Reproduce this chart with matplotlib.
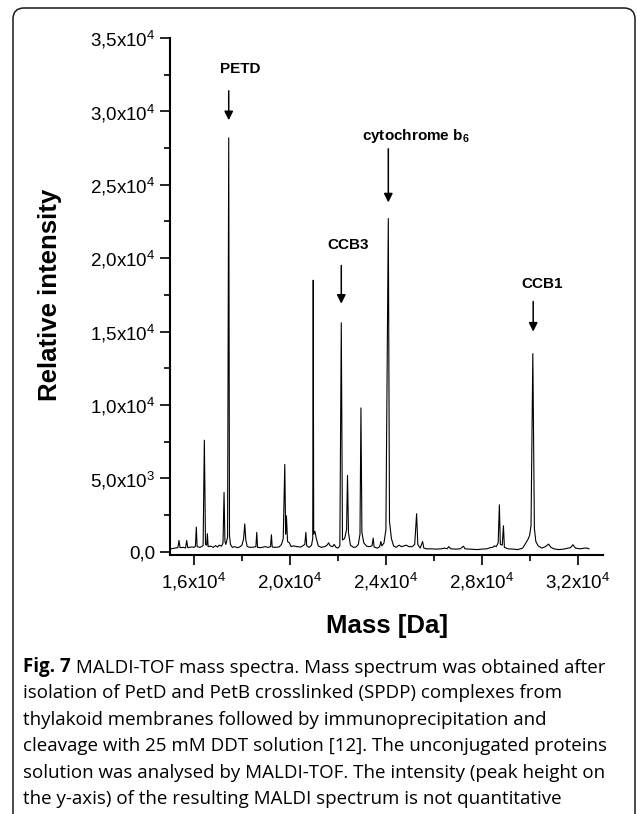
import matplotlib
matplotlib.use("Agg")
import matplotlib.pyplot as plt
from matplotlib.patches import FancyBboxPatch
from matplotlib.transforms import IdentityTransform

plt.rcParams['font.family'] = ['Liberation Sans', 'DejaVu Sans']
plt.rcParams['mathtext.fontset'] = 'custom'
plt.rcParams['mathtext.rm'] = 'Liberation Sans'
plt.rcParams['mathtext.it'] = 'Liberation Sans:italic'
plt.rcParams['mathtext.bf'] = 'Liberation Sans:bold'
plt.rcParams['mathtext.default'] = 'regular'

# spectrum: mass [Da] and relative intensity
mass = [15030, 15200, 15330, 15374, 15420, 15550, 15650, 15695, 15740, 15900,
        16000, 16060, 16097, 16130, 16250, 16380, 16432, 16480, 16530, 16557,
        16590, 16700, 16800, 16900, 16980, 17050, 17150, 17210, 17253, 17290,
        17330, 17400, 17448, 17480, 17520, 17600, 17700, 17800, 17900, 18000,
        18070, 18116, 18160, 18220, 18350, 18500, 18580, 18617, 18650, 18800,
        18950, 19100, 19190, 19228, 19260, 19400, 19550, 19650, 19720, 19785,
        19820, 19855, 19900, 19980, 20050, 20150, 20300, 20450, 20550, 20620,
        20663, 20700, 20800, 20900, 20950, 20970, 20990, 21040, 21100, 21180,
        21300, 21450, 21550, 21610, 21680, 21780, 21845, 21920, 22000, 22080,
        22140, 22190, 22280, 22360, 22400, 22440, 22520, 22650, 22750, 22850,
        22920, 22960, 23000, 23080, 23200, 23320, 23420, 23470, 23510, 23650,
        23740, 23790, 23830, 23920, 24000, 24100, 24150, 24230, 24320, 24420,
        24550, 24650, 24750, 24850, 24950, 25100, 25200, 25280, 25330, 25430,
        25530, 25580, 25700, 25900, 26100, 26300, 26450, 26550, 26620, 26700,
        26900, 27100, 27230, 27300, 27500, 27800, 28000, 28200, 28350, 28450,
        28525, 28600, 28680, 28730, 28770, 28850, 28900, 28940, 29100, 29300,
        29500, 29700, 29850, 29915, 29990, 30050, 30125, 30190, 30250, 30350,
        30500, 30650, 30780, 30880, 31000, 31200, 31400, 31600, 31700, 31795,
        31900, 32100, 32300, 32400, 32465]
intensity = [200, 250, 280, 770, 280, 300, 260, 770, 280, 330,
             300, 380, 1680, 350, 300, 420, 7600, 500, 450, 1230,
             350, 380, 300, 420, 320, 450, 380, 600, 4040, 700,
             500, 1000, 28200, 1100, 500, 300, 350, 280, 320, 450,
             900, 1900, 800, 350, 300, 320, 350, 1320, 300, 280,
             350, 300, 350, 1160, 320, 300, 330, 500, 900, 5950,
             1200, 2450, 700, 600, 350, 400, 350, 320, 420, 500,
             1320, 400, 300, 450, 900, 18500, 1200, 1400, 900, 400,
             300, 350, 450, 610, 400, 350, 500, 300, 250, 400,
             15600, 800, 900, 1500, 5200, 1300, 450, 300, 320, 500,
             1200, 9800, 1300, 600, 380, 350, 400, 930, 320, 250,
             350, 700, 400, 600, 1500, 22700, 2060, 900, 400, 300,
             450, 350, 400, 450, 350, 350, 500, 2590, 500, 250,
             700, 250, 200, 200, 180, 200, 250, 200, 350, 200,
             180, 200, 380, 200, 180, 150, 180, 200, 280, 300,
             400, 350, 600, 3200, 500, 450, 1770, 300, 200, 180,
             150, 250, 650, 820, 1100, 1800, 13500, 1600, 700, 400,
             250, 350, 520, 300, 200, 150, 180, 250, 280, 480,
             250, 200, 250, 250, 200]

peak_names = ['PETD', 'CCB3', 'cytochrome b$_\\mathbf{6}$', 'CCB1']
peak_mass = [17448, 22140, 24100, 30140]

# arrow tail / tip heights and label placement (layout)
arrow_top = [31400, 19500, 27450, 17050]
arrow_tip = [29400, 16900, 23800, 15000]
label_dx = [500, 270, -1090, 390]
label_y = [32900, 20900, 28300, 18250]
label_ha = ['center', 'center', 'left', 'center']

xticks = [16000, 20000, 24000, 28000, 32000]
xtick_labels = ['1,6x10$^{4}$', '2,0x10$^{4}$', '2,4x10$^{4}$', '2,8x10$^{4}$', '3,2x10$^{4}$']
yticks = [0, 5000, 10000, 15000, 20000, 25000, 30000, 35000]
ytick_labels = ['0,0', '5,0x10$^{3}$', '1,0x10$^{4}$', '1,5x10$^{4}$',
                '2,0x10$^{4}$', '2,5x10$^{4}$', '3,0x10$^{4}$', '3,5x10$^{4}$']

caption = [
    'MALDI-TOF mass spectra. Mass spectrum was obtained after',
    'isolation of PetD and PetB crosslinked (SPDP) complexes from',
    'thylakoid membranes followed by immunoprecipitation and',
    'cleavage with 25 mM DDT solution [12]. The unconjugated proteins',
    'solution was analysed by MALDI-TOF. The intensity (peak height on',
    'the y-axis) of the resulting MALDI spectrum is not quantitative',
]

W, H = 637, 814
fig = plt.figure(figsize=(W / 100, H / 100), dpi=100)
ax = fig.add_axes([170 / W, 1 - 555 / H, 433 / W, 517 / H])

ax.plot(mass, intensity, color='black', lw=0.8)

ax.set_xlim(15000, 33050)
ax.set_ylim(-220, 35000)
for s in ['top', 'right']:
    ax.spines[s].set_visible(False)
for s in ['left', 'bottom']:
    ax.spines[s].set_linewidth(1.5)

ax.set_xticks(xticks)
ax.set_xticklabels(xtick_labels)
ax.set_xticks([18000, 22000, 26000, 30000], minor=True)
ax.set_yticks(yticks)
ax.set_yticklabels(ytick_labels)
ax.set_yticks([2500, 7500, 12500, 17500, 22500, 27500, 32500], minor=True)
ax.tick_params(which='major', length=7.5, width=1.2, labelsize=13.5, pad=3)
ax.tick_params(which='minor', length=4, width=1.2)
ax.tick_params(axis='x', which='major', pad=4)

for name, m, t0, t1, dx, ly, ha in zip(peak_names, peak_mass, arrow_top, arrow_tip,
                                       label_dx, label_y, label_ha):
    ax.annotate('', xy=(m, t1), xytext=(m, t0),
                arrowprops=dict(arrowstyle='-|>', color='black', lw=1.1,
                                mutation_scale=13, shrinkA=0, shrinkB=0))
    ax.text(m + dx, ly, name, ha=ha, va='center', fontsize=11, fontweight='bold')

fig.text(50 / W, 1 - 295 / H, 'Relative intensity', rotation=90, ha='center',
         va='center', fontsize=18.5, fontweight='bold')
fig.text(387 / W, 1 - 633 / H, 'Mass [Da]', ha='center', va='baseline',
         fontsize=18.5, fontweight='bold')

# caption block
cap_font = 'Open Sans'
cap_size = 13.5
t = fig.text(23 / W, 1 - 672 / H, 'Fig. 7', ha='left', va='baseline',
             fontsize=cap_size, fontweight='bold', family=cap_font)
ax.annotate(' ' + caption[0], xy=(1, 0), xycoords=t, xytext=(0, 0),
            textcoords='offset points', ha='left', va='bottom',
            fontsize=cap_size, family=cap_font, annotation_clip=False)
for i, line in enumerate(caption[1:], start=1):
    fig.text(23 / W, 1 - (672 + 26.4 * i) / H, line, ha='left', va='baseline',
             fontsize=cap_size, family=cap_font)

box = FancyBboxPatch((13, -30), 622, H - 8 + 30,
                     boxstyle='round,pad=0,rounding_size=11',
                     transform=IdentityTransform(), fill=False,
                     edgecolor='#1a1a1a', lw=1.1)
fig.patches.append(box)

fig.savefig('out.png', dpi=100)
